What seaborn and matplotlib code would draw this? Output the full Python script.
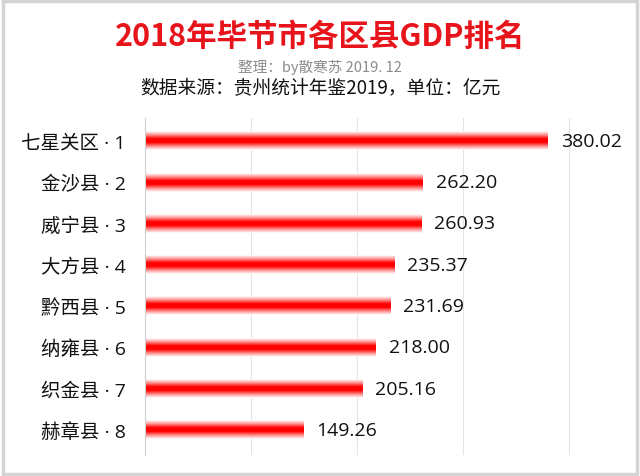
import numpy as np
import pandas as pd
import matplotlib
matplotlib.use("Agg")
import matplotlib.pyplot as plt
import seaborn as sns
from matplotlib.colors import LinearSegmentedColormap

counties = ['七星关区', '金沙县', '威宁县', '大方县', '黔西县', '纳雍县', '织金县', '赫章县']
ranks = [1, 2, 3, 4, 5, 6, 7, 8]
gdp = [380.02, 262.20, 260.93, 235.37, 231.69, 218.00, 205.16, 149.26]

sns.set_style('white')
plt.rcParams['font.family'] = ['Noto Sans CJK SC', 'DejaVu Sans']
mixed = ['Open Sans', 'Noto Sans CJK SC']

df = pd.DataFrame({'label': [f'{c} · {r}' for c, r in zip(counties, ranks)], 'gdp': gdp})

fig = plt.figure(figsize=(6.4, 4.77), dpi=100)
ax = fig.add_axes([0.227, 0.045, 0.745, 0.705])

sns.barplot(data=df, x='gdp', y='label', orient='h', color='red', width=0.46, ax=ax)

# vertical gradient: white -> red -> white
cmap = LinearSegmentedColormap.from_list('bar', ['#ffffff', '#ff8c8c', '#ff0000', '#ff0000', '#ff8c8c', '#ffffff'])
grad = np.linspace(0, 1, 64).reshape(-1, 1)
for p in ax.patches:
    x0, y0 = p.get_x(), p.get_y()
    w, h = p.get_width(), p.get_height()
    p.set_visible(False)
    ax.imshow(grad, extent=[x0, x0 + w, y0 + h, y0], aspect='auto', cmap=cmap, zorder=2)
    ax.text(x0 + w + 12, y0 + h / 2, f'{w:.2f}', va='center', ha='left', fontsize=14,
            color='#111111', family=mixed)

ax.set_xlim(0, 450)
ax.set_ylim(7.6, -0.55)
ax.set_xticks([0, 100, 200, 300, 400])
ax.xaxis.grid(True, color='#e4e4e4', lw=0.8)
ax.set_axisbelow(True)
ax.set_xticklabels([])
ax.tick_params(axis='x', length=0)
ax.tick_params(axis='y', length=0, pad=14)
for t in ax.get_yticklabels():
    t.set_fontfamily(mixed)
    t.set_fontsize(14)
    t.set_color('#111111')
ax.set_xlabel('')
ax.set_ylabel('')
for s in ['top', 'right', 'bottom']:
    ax.spines[s].set_visible(False)
ax.spines['left'].set_color('#d0d0d0')
ax.spines['left'].set_linewidth(0.8)

fig.text(0.5, 0.922, '2018年毕节市各区县GDP排名', ha='center', va='center',
         fontsize=22, fontweight='bold', color='#e8141b')
fig.text(0.5, 0.858, '整理：by散寒苏 2019. 12', ha='center', va='center', fontsize=10.5, color='#8c8c8c')
fig.text(0.5, 0.815, '数据来源：贵州统计年鉴2019，单位：亿元', ha='center', va='center', fontsize=13.5, color='#111111')

fig.patches.append(plt.Rectangle((0.004, 0.004), 0.992, 0.992, transform=fig.transFigure,
                                 fill=False, edgecolor='#d4d4d4', lw=2.5))

fig.savefig('out.png', dpi=100)
